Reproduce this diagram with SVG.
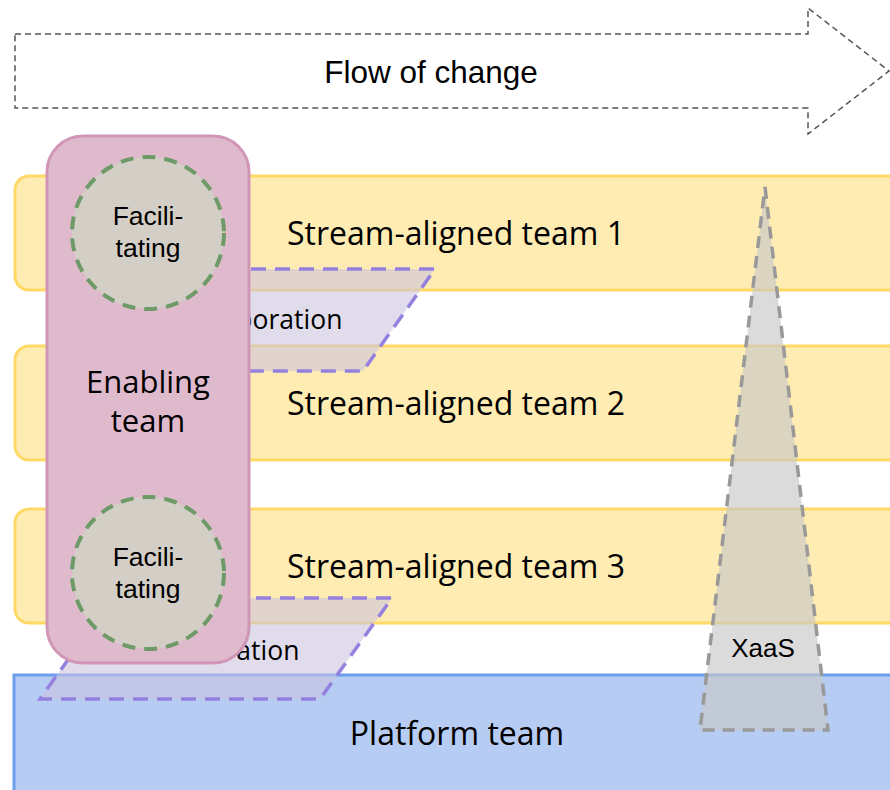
<svg xmlns="http://www.w3.org/2000/svg" width="890" height="790" viewBox="0 0 890 790">
<style>
.sat{fill:#FFECB3;stroke:#FFD966;stroke-width:3}
.lbl{font-family:"Open Sans","Noto Sans",sans-serif;fill:#000;text-anchor:middle}
.ar{font-family:"Liberation Sans",Arial,sans-serif;fill:#000;text-anchor:middle}
.collab{fill:#c9c3de;fill-opacity:0.58;stroke:#9580E0;stroke-width:3.5;stroke-dasharray:15 9}
.fac{fill:#D3CFC6;stroke:#6E9A68;stroke-width:4;stroke-dasharray:13 9}
</style>
<g id="flow">
<path d="M15,34 H808 V8 L889,71 L808,134 V108 H15 Z" fill="#fff" stroke="#555" stroke-width="1.5" stroke-dasharray="6 4"/>
<text class="ar" x="431" y="83" font-size="31.5">Flow of change</text>
</g>
<g id="sat1">
<rect class="sat" x="15" y="176" width="890" height="114" rx="14"/>
<text class="lbl" x="456" y="245" font-size="32">Stream-aligned team 1</text>
</g>
<g id="sat2">
<rect class="sat" x="15" y="346" width="890" height="114" rx="14"/>
<text class="lbl" x="456" y="415" font-size="32">Stream-aligned team 2</text>
</g>
<g id="sat3">
<rect class="sat" x="15" y="509" width="890" height="114" rx="14"/>
<text class="lbl" x="456" y="578" font-size="32">Stream-aligned team 3</text>
</g>
<g id="platform">
<rect x="14" y="675" width="890" height="130" fill="#B7CCF2" stroke="#6D9EEB" stroke-width="3"/>
<text class="lbl" x="457" y="745" font-size="32">Platform team</text>
</g>
<g id="collab1">
<path class="collab" d="M155,269 H435 L363,371 H83 Z"/>
<text class="lbl" x="259" y="329" font-size="26.5">Collaboration</text>
</g>
<g id="collab2">
<path class="collab" d="M112,598 H392 L320,699 H40 Z"/>
<text class="lbl" x="216" y="660" font-size="26.5">Collaboration</text>
</g>
<g id="xaas">
<path d="M765,187 L828,730 H700 Z" fill="#c8c8c8" fill-opacity="0.65" stroke="#999" stroke-width="3.5" stroke-dasharray="12 8"/>
<text class="ar" x="763" y="657" font-size="26">XaaS</text>
</g>
<g id="enabling">
<rect x="47" y="136" width="202" height="527" rx="36" fill="#DFBACD" stroke="#D096B5" stroke-width="3"/>
<text class="lbl" x="148" y="393" font-size="31">Enabling</text>
<text class="lbl" x="148" y="432" font-size="31">team</text>
</g>
<g id="facilitating1">
<circle class="fac" cx="148" cy="233" r="76"/>
<text class="ar" x="148" y="225" font-size="26.5">Facili-</text>
<text class="ar" x="148" y="257" font-size="26.5">tating</text>
</g>
<g id="facilitating2">
<circle class="fac" cx="148" cy="573" r="76"/>
<text class="ar" x="148" y="566" font-size="26.5">Facili-</text>
<text class="ar" x="148" y="598" font-size="26.5">tating</text>
</g>
<g id="connectors"/>
</svg>
